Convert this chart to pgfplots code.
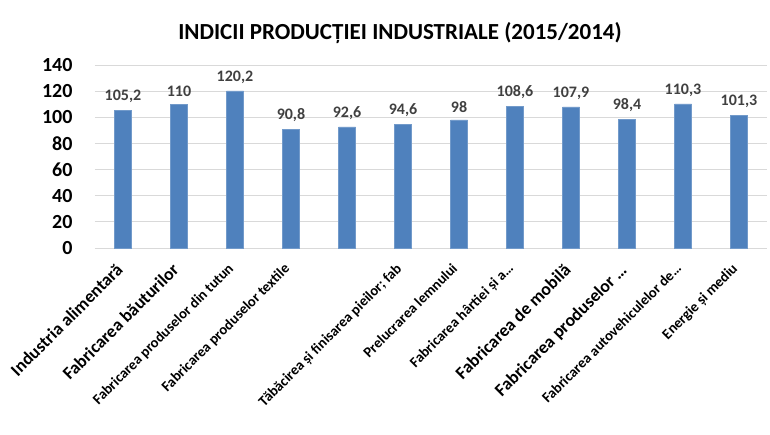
\documentclass[border=0pt]{standalone}
\usepackage{pgfplots}
\pgfplotsset{compat=1.18}
\usepackage{fontspec}
\setmainfont{Carlito}
\definecolor{barblue}{HTML}{4F81BD}
\definecolor{labgray}{HTML}{404040}
\definecolor{gridgray}{HTML}{D9D9D9}
\begin{document}
\begin{tikzpicture}[x=1pt,y=1pt]
\useasboundingbox (-95,-186) rectangle (675,248);
\begin{axis}[
  at={(0,0)}, anchor=south west,
  scale only axis,
  width=672pt, height=183pt,
  xmin=-0.5, xmax=11.5,
  ymin=0, ymax=140,
  ytick={0,20,40,60,80,100,120,140},
  xtick={0,1,2,3,4,5,6,7,8,9,10,11},
  xticklabels={
    {\fontsize{17.8}{18}\selectfont Industria alimentară},
    {\fontsize{17.8}{18}\selectfont Fabricarea băuturilor},
    {Fabricarea produselor din tutun},
    {Fabricarea produselor textile},
    {},
    {Tăbăcirea și finisarea pieilor; fab},
    {Prelucrarea lemnului},
    {Fabricarea hârtiei și a…},
    {\fontsize{17.8}{18}\selectfont Fabricarea de mobilă},
    {\fontsize{17.8}{18}\selectfont Fabricarea produselor …},
    {Fabricarea autovehiculelor de…},
    {Energie și mediu}},
  xticklabel style={xshift=-8pt, yshift=-14pt, rotate=45, anchor=north east, inner sep=0pt, font=\bfseries\fontsize{14.6}{15}\selectfont},
  yticklabel style={font=\bfseries\fontsize{20}{20}\selectfont, xshift=-19pt},
  /pgf/number format/assume math mode=true,
  major tick length=0pt,
  axis line style={draw=none},
  ymajorgrids,
  grid style={gridgray, line width=0.8pt},
  clip=false,
]
\addplot[ybar, bar width=17pt, fill=barblue, draw=barblue!80!white,
  nodes near coords,
  nodes near coords style={font=\bfseries\fontsize{16}{16}\selectfont, text=labgray, yshift=4pt},
  point meta=explicit symbolic]
  coordinates {(0,105.2)[105,2] (1,110)[110] (2,120.2)[120,2] (3,90.8)[90,8] (4,92.6)[92,6] (5,94.6)[94,6] (6,98)[98] (7,108.6)[108,6] (8,107.9)[107,9] (9,98.4)[98,4] (10,110.3)[110,3] (11,101.3)[101,3]};
\end{axis}
\node[font=\bfseries\fontsize{23}{23}\selectfont, text=black] at (305,215) {INDICII PRODUCȚIEI INDUSTRIALE (2015/2014)};
\end{tikzpicture}
\end{document}
